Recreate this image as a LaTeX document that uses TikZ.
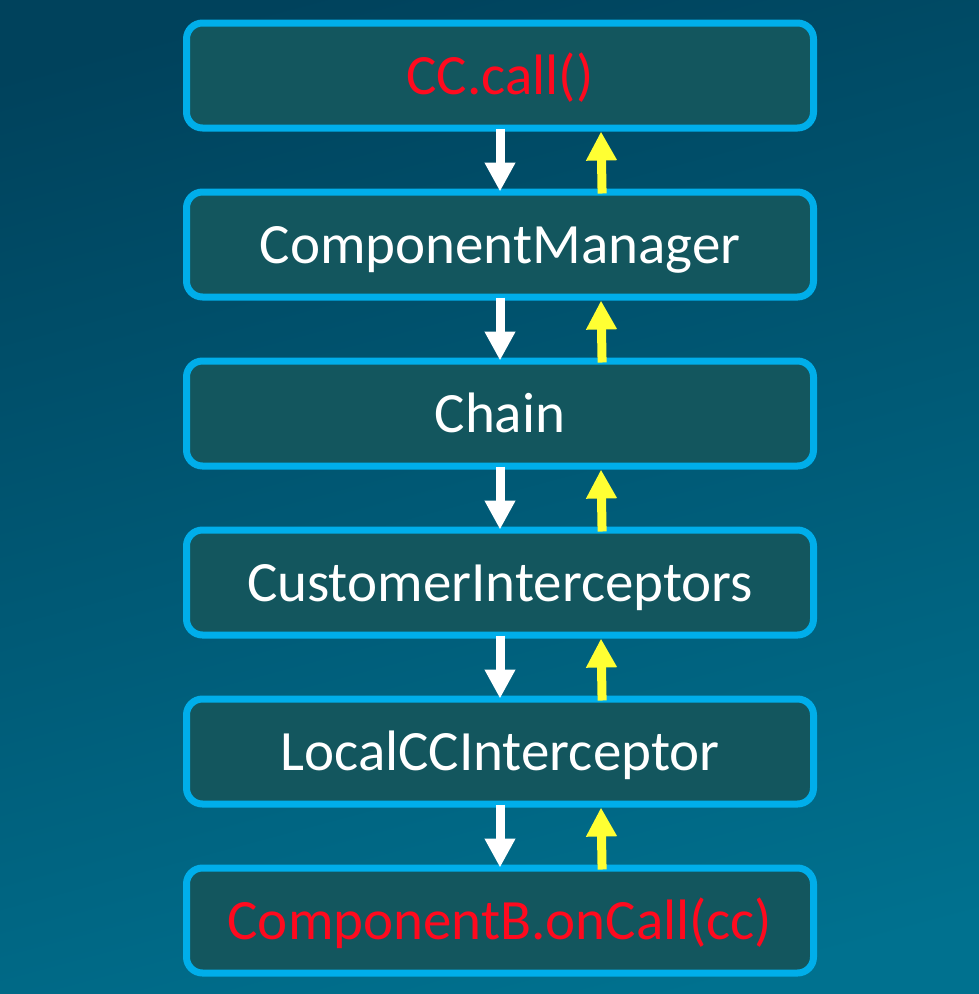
\documentclass[tikz,border=0pt]{standalone}
\usepackage{fontspec}
\setmainfont{Carlito}
\usetikzlibrary{arrows.meta}
\definecolor{bgtop}{HTML}{00425C}
\definecolor{bgbot}{HTML}{00718F}
\definecolor{boxfill}{HTML}{13565E}
\definecolor{boxline}{HTML}{00AEEA}
\definecolor{txtred}{HTML}{FF0A1E}
\definecolor{arrowyel}{HTML}{FFFF33}
\tikzset{
  stage/.style={draw=boxline, line width=7pt, fill=boxfill, rounded corners=16pt,
    minimum width=627pt, minimum height=105pt, inner sep=0pt,
    text height=40pt, text depth=2pt,
    font=\fontsize{57}{60}\selectfont, text=white},
  redtext/.style={text=txtred},
  downarrow/.style={draw=white, line width=9pt, -{Triangle[width=29pt,length=29pt]}, shorten >=-3pt, shorten <=-3pt},
  uparrow/.style={draw=arrowyel, line width=9pt, -{Triangle[width=29pt,length=29pt]}, shorten <=-5pt}
}
\begin{document}
\begin{tikzpicture}
\useasboundingbox (0pt,0pt) rectangle (979pt,-994pt);
\shade[top color=bgtop, bottom color=bgbot, shading angle=15] (-40pt,40pt) rectangle (1019pt,-1034pt);
\node[stage, redtext] (b1) at (500pt,-75.5pt) {CC.call()};
\node[stage] (b2) at (500pt,-244.5pt) {ComponentManager};
\node[stage] (b3) at (500pt,-413.5pt) {Chain};
\node[stage] (b4) at (500pt,-582.5pt) {CustomerInterceptors};
\node[stage] (b5) at (500pt,-751.5pt) {LocalCCInterceptor};
\node[stage, redtext] (b6) at (500pt,-920.5pt) {ComponentB.onCall(cc)};
\foreach \a/\b in {b1/b2,b2/b3,b3/b4,b4/b5,b5/b6}{
  \draw[downarrow] (\a.south) -- (\b.north);
  \draw[uparrow] ([xshift=102pt]\b.north) -- ([xshift=101pt]\a.south);
}
\end{tikzpicture}
\end{document}
